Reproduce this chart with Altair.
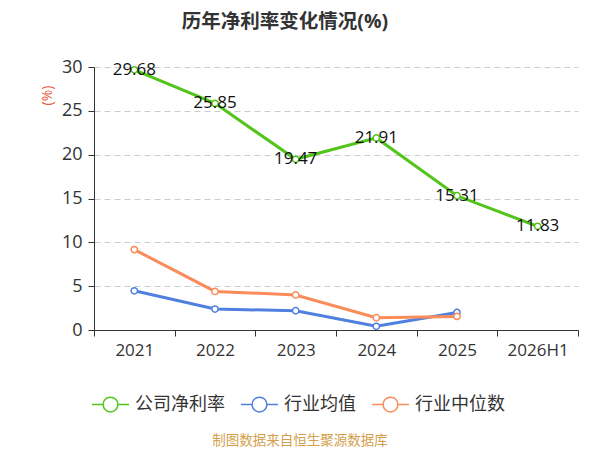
import altair as alt
import pandas as pd

years = ["2021", "2022", "2023", "2024", "2025", "2026H1"]
company = [29.68, 25.85, 19.47, 21.91, 15.31, 11.83]
ind_years = ["2021", "2022", "2023", "2024", "2025"]
ind_mean = [4.47, 2.39, 2.2, 0.42, 2.0]
ind_median = [9.17, 4.4, 4.0, 1.4, 1.55]

series_names = ["公司净利率", "行业均值", "行业中位数"]
colors = ["#52c41a", "#4f7fdf", "#fa8c5a"]
FONT = "Open Sans, Noto Sans CJK SC, sans-serif"

rows = []
for y, v in zip(years, company):
    rows.append({"year": y, "value": v, "series": series_names[0], "label": f"{v:.2f}"})
for y, v in zip(ind_years, ind_mean):
    rows.append({"year": y, "value": v, "series": series_names[1], "label": ""})
for y, v in zip(ind_years, ind_median):
    rows.append({"year": y, "value": v, "series": series_names[2], "label": ""})
df = pd.DataFrame(rows)

sym = "M-1,0 L-0.4,0 M0.4,0 A0.4,0.4 0 1,1 -0.4,0 A0.4,0.4 0 1,1 0.4,0 M0.4,0 L1,0"

x = alt.X("year:N", sort=years, bandPosition=0.5,
          scale=alt.Scale(type="band", domain=years, paddingInner=0, paddingOuter=0),
          axis=alt.Axis(title=None, labelAngle=0, tickBand="extent", labelFontSize=17,
                        labelColor="#333", domainColor="#333", tickColor="#333",
                        labelPadding=6, tickSize=6, grid=False, labelFont=FONT))
y = alt.Y("value:Q", scale=alt.Scale(domain=[0, 30]),
          axis=alt.Axis(values=[0, 5, 10, 15, 20, 25, 30], title="(%)", titleColor="#e8593b",
                        titleFontWeight="normal", titleFontSize=14, titleX=-40, titleY=28,
                        titleAlign="center", titleFont=FONT, labelFontSize=18, labelColor="#333",
                        domainColor="#333", tickColor="#333", tickSize=6, labelFont=FONT,
                        gridColor="#cccccc", gridDash=[6, 4], labelPadding=6))
color = alt.Color("series:N", sort=series_names,
                  scale=alt.Scale(domain=series_names, range=colors),
                  legend=alt.Legend(title=None, orient="none", direction="horizontal",
                                    legendX=-3, legendY=318, symbolType=sym, symbolSize=1369,
                                    symbolStrokeWidth=1.5, symbolFillColor="white",
                                    labelFontSize=18, labelColor="#333", labelOffset=5,
                                    columnPadding=13, labelFont=FONT))

base = alt.Chart(df)
lines = base.mark_line(strokeWidth=3).encode(x=x, y=y, color=color)
points = base.mark_point(filled=True, fill="white", size=40, strokeWidth=1.5, opacity=1).encode(
    x=x, y=y, stroke=alt.Stroke("series:N", sort=series_names,
                                scale=alt.Scale(domain=series_names, range=colors), legend=None))
labels = base.transform_filter("datum.label != ''").mark_text(
    fontSize=17, color="#111", align="center", baseline="middle", font=FONT).encode(
    x=x, y=y, text="label:N")
footer = alt.Chart(pd.DataFrame({"t": ["制图数据来自恒生聚源数据库"]})).mark_text(
    fontSize=13.5, color="#d4a04a", align="center", baseline="middle", font=FONT).encode(
    x=alt.value(206), y=alt.value(374), text="t:N")

chart = alt.layer(lines, points, labels, footer).properties(
    width=484, height=263,
    title=alt.TitleParams("历年净利率变化情况(%)", fontSize=19.5, fontWeight="bold", font=FONT,
                          color="#333", anchor="middle", dx=-51, offset=26),
    autosize=alt.AutoSizeParams(type="none"),
    padding={"left": 86, "top": 59, "right": 14, "bottom": 120},
).configure_view(stroke=None)

chart.save("out.html", embed_options={"renderer": "svg", "actions": False})
